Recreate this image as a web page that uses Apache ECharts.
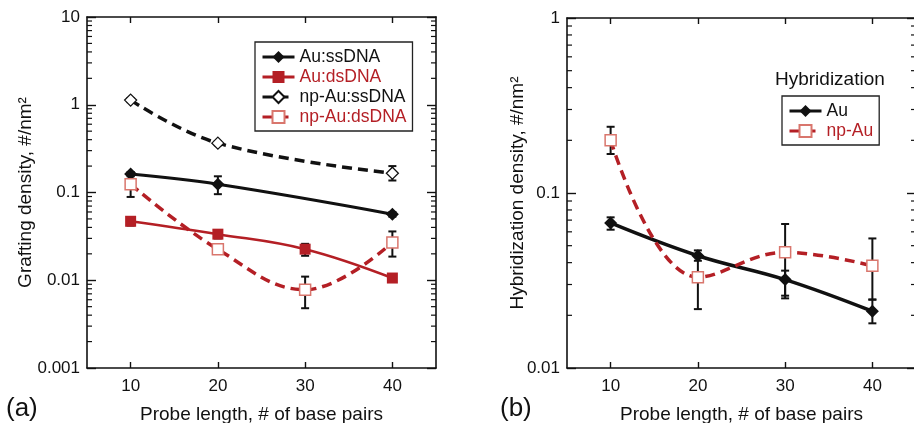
<!DOCTYPE html>
<html><head><meta charset="utf-8">
<script src="https://cdn.jsdelivr.net/npm/echarts@6/dist/echarts.min.js"></script>
<style>html,body{margin:0;padding:0;background:#fff}#c{width:914px;height:423px}</style>
</head><body><div id="c"></div>
<script>
// ---------- data: panel (a) grafting density ----------
const auSsX = [10, 20, 40];
const auSsY = [0.162, 0.124, 0.0566];
const auSsErr = [[0.153, 0.171], [0.0957, 0.153], [0.053, 0.060]];

const auDsX = [10, 20, 30, 40];
const auDsY = [0.047, 0.0335, 0.0226, 0.0106];
const auDsErr = [[0.042, 0.052], [0.030, 0.037], [0.019, 0.026], [0.0098, 0.0114]];

const npSsX = [10, 20, 40];
const npSsY = [1.13, 0.365, 0.166];
const npSsErr = [[1.07, 1.19], [0.345, 0.385], [0.137, 0.20]];

const npDsX = [10, 20, 30, 40];
const npDsY = [0.124, 0.0225, 0.0078, 0.027];
const npDsErr = [[0.089, 0.16], [0.020, 0.025], [0.0048, 0.011], [0.0186, 0.036]];

// ---------- data: panel (b) hybridization density ----------
const hybAuX = [10, 20, 30, 40];
const hybAuY = [0.0674, 0.0438, 0.032, 0.0211];
const hybAuErr = [[0.0617, 0.0726], [0.041, 0.047], [0.0259, 0.036], [0.018, 0.0246]];

const hybNpX = [10, 20, 30, 40];
const hybNpY = [0.2, 0.033, 0.0458, 0.0384];
const hybNpErr = [[0.167, 0.239], [0.0217, 0.044], [0.025, 0.0665], [0.0246, 0.055]];

// ---------- axes ----------
const xTicks = [10, 20, 30, 40];
const yLabelsA = ['0.001', '0.01', '0.1', '1', '10'];   // decades -3..1
const yLabelsB = ['0.01', '0.1', '1'];                  // decades -2..0
const minorMult = [2, 3, 4, 5, 6, 7, 8, 9];
const decadesA = [0.001, 0.01, 0.1, 1];
const decadesB = [0.01, 0.1];

const FONT = "'Liberation Sans', Arial, sans-serif";
const RED = '#b41f25';
const RED_OPEN = '#d9766d';
const BLACK = '#111';
const X_MIN = 5, X_MAX = 45;

function pairs(xs, ys) { return xs.map((x, i) => [x, ys[i]]); }
function errData(xs, errs) { return xs.map((x, i) => [x, errs[i][0], errs[i][1]]); }
function minorData(decades) {
  const out = [];
  decades.forEach(d => minorMult.forEach(m => out.push([X_MIN, m * d])));
  return out;
}

function errSeries(xi, yi, data) {
  return {
    type: 'custom', xAxisIndex: xi, yAxisIndex: yi, z: 1, silent: true,
    encode: { x: 0, y: [1, 2] }, data: data,
    renderItem: function (params, api) {
      const x = api.value(0);
      const p1 = api.coord([x, api.value(1)]);
      const p2 = api.coord([x, api.value(2)]);
      const w = 4;
      const st = { stroke: BLACK, lineWidth: 2 };
      return { type: 'group', children: [
        { type: 'line', shape: { x1: p1[0], y1: p1[1], x2: p2[0], y2: p2[1] }, style: st },
        { type: 'line', shape: { x1: p1[0] - w, y1: p1[1], x2: p1[0] + w, y2: p1[1] }, style: st },
        { type: 'line', shape: { x1: p2[0] - w, y1: p2[1], x2: p2[0] + w, y2: p2[1] }, style: st }
      ]};
    }
  };
}

function minorSeries(xi, yi, data) {
  return {
    type: 'custom', xAxisIndex: xi, yAxisIndex: yi, z: 3, silent: true, clip: false,
    encode: { x: 0, y: 1 }, data: data,
    renderItem: function (params, api) {
      const v = api.value(1);
      const pl = api.coord([X_MIN, v]);
      const pr = api.coord([X_MAX, v]);
      const st = { stroke: BLACK, lineWidth: 1.2 };
      return { type: 'group', children: [
        { type: 'line', shape: { x1: pl[0], y1: pl[1], x2: pl[0] + 5, y2: pl[1] }, style: st },
        { type: 'line', shape: { x1: pr[0] - 5, y1: pr[1], x2: pr[0], y2: pr[1] }, style: st }
      ]};
    }
  };
}

function lineSeries(name, xi, yi, data, opt) {
  return {
    name: name, type: 'line', xAxisIndex: xi, yAxisIndex: yi, z: 2,
    data: data, smooth: 0.4,
    symbol: opt.symbol, symbolSize: opt.size,
    lineStyle: { color: opt.lineColor, width: opt.width, type: opt.dash ? [10, 6] : 'solid' },
    itemStyle: { color: opt.fill, borderColor: opt.border, borderWidth: opt.borderWidth || 0 },
    emphasis: { disabled: true }
  };
}

const axisLineStyle = { show: true, lineStyle: { color: BLACK, width: 1.6 } };
const tickLabelStyle = { fontFamily: FONT, fontSize: 17, color: '#111' };
const nameStyle = { fontFamily: FONT, fontSize: 19, color: '#111' };

function xAxes(gi) {
  return [
    { type: 'value', gridIndex: gi, position: 'bottom', min: X_MIN, max: X_MAX,
      axisLine: axisLineStyle, splitLine: { show: false },
      axisTick: { show: true, inside: true, length: 6, customValues: xTicks, lineStyle: { width: 1.4, color: BLACK } },
      axisLabel: { customValues: xTicks, margin: 10, ...tickLabelStyle },
      name: 'Probe length, # of base pairs', nameLocation: 'middle', nameGap: 37, nameTextStyle: nameStyle },
    { type: 'value', gridIndex: gi, position: 'top', min: X_MIN, max: X_MAX,
      axisLine: axisLineStyle, splitLine: { show: false },
      axisTick: { show: true, inside: true, length: 6, customValues: xTicks, lineStyle: { width: 1.4, color: BLACK } },
      axisLabel: { show: false } }
  ];
}

function yAxes(gi, min, max, labels, minExp, title, gap) {
  const fmt = v => labels[Math.round(Math.log10(v)) - minExp];
  return [
    { type: 'log', logBase: 10, gridIndex: gi, position: 'left', min: min, max: max,
      axisLine: axisLineStyle, splitLine: { show: false }, minorTick: { show: false },
      axisTick: { show: true, inside: true, length: 9, lineStyle: { width: 1.4, color: BLACK } },
      axisLabel: { formatter: fmt, margin: 7, ...tickLabelStyle },
      name: title, nameLocation: 'middle', nameGap: gap, nameMoveOverlap: false, nameTextStyle: nameStyle },
    { type: 'log', logBase: 10, gridIndex: gi, position: 'right', min: min, max: max,
      axisLine: axisLineStyle, splitLine: { show: false },
      axisTick: { show: true, inside: true, length: 9, lineStyle: { width: 1.4, color: BLACK } },
      axisLabel: { show: false } }
  ];
}

const legendBase = {
  orient: 'vertical', itemWidth: 32, itemHeight: 15, itemGap: 2,
  backgroundColor: '#fff', borderColor: '#222', borderWidth: 1.3, borderRadius: 0,
  selectedMode: false,
  lineStyle: { width: 3 },
  textStyle: { fontFamily: FONT, fontSize: 17.5, color: '#111', lineHeight: 18 }
};

const option = {
  animation: false,
  backgroundColor: '#fff',
  grid: [
    { left: 87, top: 17, width: 349, height: 351, outerBoundsMode: 'none', containLabel: false },
    { left: 567, top: 18, width: 349, height: 350, outerBoundsMode: 'none', containLabel: false }
  ],
  xAxis: [...xAxes(0), ...xAxes(1)],
  yAxis: [
    ...yAxes(0, 0.001, 10, yLabelsA, -3, 'Grafting density, #/nm²', 52),
    ...yAxes(1, 0.01, 1, yLabelsB, -2, 'Hybridization density, #/nm²', 40)
  ],
  legend: [
    { ...legendBase, left: 255, top: 42, padding: [6, 6, 5, 6],
      data: [
        { name: 'Au:ssDNA' },
        { name: 'Au:dsDNA', textStyle: { color: RED } },
        { name: 'np-Au:ssDNA' },
        { name: 'np-Au:dsDNA', textStyle: { color: RED } }
      ] },
    { ...legendBase, left: 782, top: 96, padding: [6, 6, 5, 6],
      data: [
        { name: 'Au' },
        { name: 'np-Au', textStyle: { color: RED } }
      ] }
  ],
  graphic: [
    { type: 'text', left: 6, top: 396, style: { text: '(a)', font: "26px 'Liberation Sans', Arial, sans-serif", fill: '#111' } },
    { type: 'text', left: 500, top: 396, style: { text: '(b)', font: "26px 'Liberation Sans', Arial, sans-serif", fill: '#111' } },
    { type: 'text', left: 775, top: 70, style: { text: 'Hybridization', font: "19px 'Liberation Sans', Arial, sans-serif", fill: '#111' } }
  ],
  series: [
    minorSeries(0, 0, minorData(decadesA)),
    minorSeries(2, 2, minorData(decadesB)),
    errSeries(0, 0, errData(auSsX, auSsErr)),
    errSeries(0, 0, errData(auDsX, auDsErr)),
    errSeries(0, 0, errData(npSsX, npSsErr)),
    errSeries(0, 0, errData(npDsX, npDsErr)),
    errSeries(2, 2, errData(hybAuX, hybAuErr)),
    errSeries(2, 2, errData(hybNpX, hybNpErr)),
    lineSeries('Au:ssDNA', 0, 0, pairs(auSsX, auSsY),
      { symbol: 'diamond', size: 13, lineColor: BLACK, width: 3, fill: BLACK, border: BLACK }),
    lineSeries('Au:dsDNA', 0, 0, pairs(auDsX, auDsY),
      { symbol: 'rect', size: 11, lineColor: RED, width: 2.6, fill: RED, border: RED }),
    lineSeries('np-Au:ssDNA', 0, 0, pairs(npSsX, npSsY),
      { symbol: 'diamond', size: 12, lineColor: BLACK, width: 3.5, dash: true, fill: '#fff', border: BLACK, borderWidth: 1.3 }),
    lineSeries('np-Au:dsDNA', 0, 0, pairs(npDsX, npDsY),
      { symbol: 'rect', size: 11, lineColor: RED, width: 3.5, dash: true, fill: '#fff', border: RED_OPEN, borderWidth: 1.5 }),
    lineSeries('Au', 2, 2, pairs(hybAuX, hybAuY),
      { symbol: 'diamond', size: 13, lineColor: BLACK, width: 3.5, fill: BLACK, border: BLACK }),
    lineSeries('np-Au', 2, 2, pairs(hybNpX, hybNpY),
      { symbol: 'rect', size: 11, lineColor: RED, width: 3.5, dash: true, fill: '#fff', border: RED_OPEN, borderWidth: 1.5 })
  ]
};

const chart = echarts.init(document.getElementById('c'), null, { renderer: 'canvas' });
chart.setOption(option);
</script>
</body></html>
